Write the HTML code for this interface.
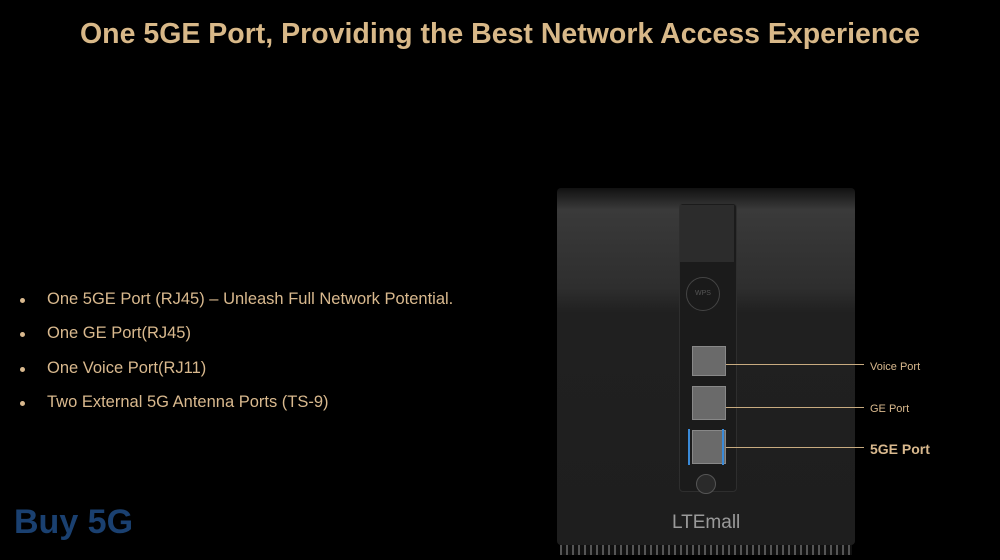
<!DOCTYPE html>
<html><head><style>
body{margin:0;width:1000px;height:560px;background:#000;position:relative;overflow:hidden;font-family:"Liberation Sans",sans-serif}
.t{position:absolute;top:18px;left:0;width:1000px;text-align:center;font-size:28.5px;font-weight:bold;color:#d8b888}
ul{position:absolute;left:18px;top:290px;margin:0;padding:0;list-style:none}
li{color:#d9b98e;font-size:16.5px;height:34.3px;position:relative;padding-left:29px}
li:before{content:"";position:absolute;left:2px;top:8px;width:5px;height:5px;border-radius:50%;background:#d9b98e}
.dev{position:absolute;left:557px;top:188px;width:298px;height:357px;background:linear-gradient(#111 0,#3a3a3a 6%,#2e2e2e 28%,#202020 35%,#1e1e1e 100%);border-radius:4px}
.panel{position:absolute;left:679px;top:203px;width:56px;height:287px;border:1px solid #2e2e2e;border-radius:4px;background:#1b1b1b}
.port{position:absolute;left:692px;width:32px;height:32px;background:#6a6a6a;border:1px solid #888}
.line{position:absolute;height:1px;background:#c8ab80}
.lbl{position:absolute;color:#d9b98e;font-size:11px}
.vent{position:absolute;left:560px;top:545px;width:292px;height:10px;background:repeating-linear-gradient(90deg,#555 0 2px,#111 2px 6px)}
</style></head><body>
<div class="t">One 5GE Port, Providing the Best Network Access Experience</div>
<ul>
<li>One 5GE Port (RJ45) – Unleash Full Network Potential.</li>
<li>One GE Port(RJ45)</li>
<li>One Voice Port(RJ11)</li>
<li>Two External 5G Antenna Ports (TS-9)</li>
</ul>
<div class="dev"></div>
<div class="vent"></div>
<div class="panel"></div>
<div style="position:absolute;left:680px;top:205px;width:54px;height:57px;background:#2c2c2c"></div>
<div style="position:absolute;left:686px;top:277px;width:32px;height:32px;border-radius:50%;background:#1a1a1a;border:1px solid #444;color:#555;font-size:7px;text-align:center;line-height:32px">WPS</div>
<div class="port" style="top:346px;height:28px"></div>
<div class="port" style="top:386px"></div>
<div class="port" style="top:430px"></div>
<div style="position:absolute;left:688px;top:429px;width:2px;height:36px;background:#3a8ad8"></div>
<div style="position:absolute;left:722px;top:429px;width:2px;height:36px;background:#3a8ad8"></div>
<div style="position:absolute;left:696px;top:474px;width:18px;height:18px;border-radius:50%;background:#2a2a2a;border:1px solid #555"></div>
<div style="position:absolute;left:672px;top:512px;color:#9a9a9a;font-size:19px">LTEmall</div>
<div class="line" style="left:726px;top:364px;width:138px"></div>
<div class="line" style="left:726px;top:407px;width:138px"></div>
<div class="line" style="left:726px;top:447px;width:138px"></div>
<div class="lbl" style="left:870px;top:361px">Voice Port</div>
<div class="lbl" style="left:870px;top:403px">GE Port</div>
<div class="lbl" style="left:870px;top:441px;font-size:14px;font-weight:bold">5GE Port</div>
<div style="position:absolute;left:14px;top:503px;color:#1a4070;font-size:34px;font-weight:bold">Buy 5G</div>
</body></html>
